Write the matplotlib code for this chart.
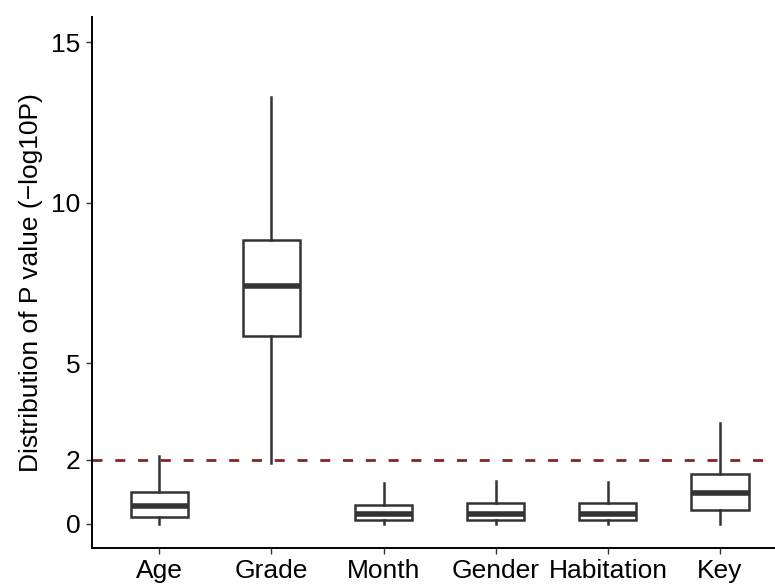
import matplotlib
matplotlib.use("Agg")
import matplotlib.pyplot as plt

plt.rcParams['font.family'] = ['Liberation Sans', 'DejaVu Sans']

# box statistics (-log10 P)
categories = ["Age", "Grade", "Month", "Gender", "Habitation", "Key"]
whislo = [0.0, 1.9, 0.0, 0.0, 0.0, 0.0]
q1 = [0.22, 5.86, 0.13, 0.13, 0.13, 0.43]
med = [0.56, 7.41, 0.30, 0.32, 0.32, 0.96]
q3 = [1.0, 8.84, 0.60, 0.64, 0.64, 1.56]
whishi = [2.12, 13.28, 1.27, 1.34, 1.30, 3.15]
threshold = 2
yticks = [0, 2, 5, 10, 15]

stats = []
for i, name in enumerate(categories):
    stats.append(dict(label=name, whislo=whislo[i], q1=q1[i], med=med[i],
                      q3=q3[i], whishi=whishi[i], fliers=[]))

fig = plt.figure(figsize=(7.75, 5.86), dpi=100)
ax = fig.add_axes([92 / 775, 1 - 548 / 586, 1 - 92 / 775, (548 - 17) / 586])

dark = '#333333'
# significance threshold, dashed
ax.axhline(threshold, color='#822525', lw=2.0, dashes=(3.6, 4.6), zorder=1)
ax.bxp(stats, positions=range(1, len(categories) + 1), widths=0.51,
       showcaps=False, patch_artist=True,
       boxprops=dict(facecolor='white', edgecolor=dark, linewidth=1.8),
       whiskerprops=dict(color=dark, linewidth=1.8),
       medianprops=dict(color=dark, linewidth=4.0, solid_capstyle='butt'),
       zorder=2)

ax.set_xlim(0.4, 6.49)
ax.set_ylim(-0.75, 15.78)
ax.set_yticks(yticks)
ax.set_xticks(range(1, len(categories) + 1))
ax.set_xticklabels(categories)
ax.set_ylabel("Distribution of P value (\u2212log10P)", fontsize=19, labelpad=6)

for s in ['top', 'right']:
    ax.spines[s].set_visible(False)
for s in ['left', 'bottom']:
    ax.spines[s].set_linewidth(1.4)
    ax.spines[s].set_color('black')
ax.tick_params(axis='both', labelsize=19, length=4.2, width=1.0, color='#333333',
               labelcolor='black', pad=4)

fig.savefig("out.png", dpi=100)
